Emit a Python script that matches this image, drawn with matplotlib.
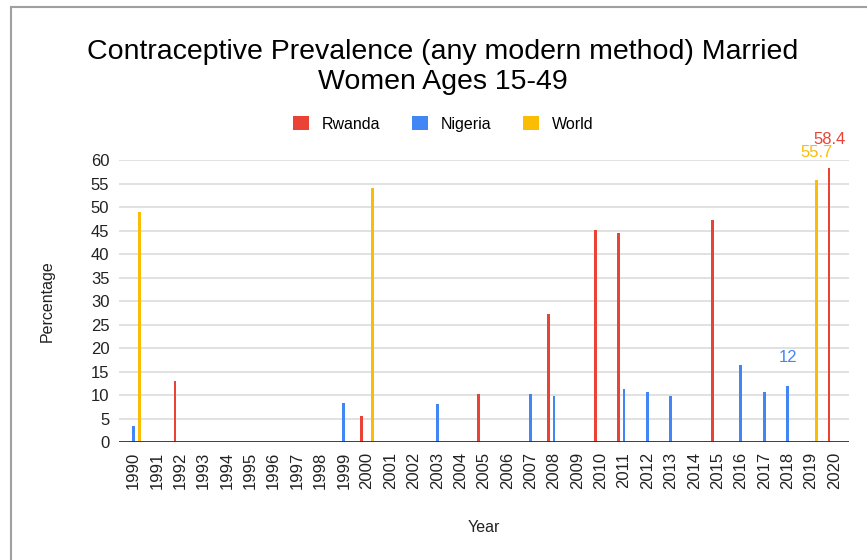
import numpy as np
import matplotlib
matplotlib.use("Agg")
import matplotlib.pyplot as plt
from matplotlib.lines import Line2D
from matplotlib.patches import Patch

plt.rcParams['font.family'] = ['Liberation Sans', 'DejaVu Sans']

years = list(range(1990, 2021))
nan = np.nan

# values, one entry per year 1990..2020
rwanda = [nan, nan, 13.0, nan, nan, nan, nan, nan, nan, nan,
          5.6, nan, nan, nan, nan, 10.2, nan, nan, 27.2, nan,
          45.1, 44.4, nan, nan, nan, 47.3, nan, nan, nan, nan, 58.4]
nigeria = [3.4, nan, nan, nan, nan, nan, nan, nan, nan, 8.4,
           nan, nan, nan, 8.0, nan, nan, nan, 10.2, 9.7, nan,
           nan, 11.3, 10.6, 9.8, nan, nan, 16.4, 10.6, 12.0, nan, nan]
world = [48.9, nan, nan, nan, nan, nan, nan, nan, nan, nan,
         54.0, nan, nan, nan, nan, nan, nan, nan, nan, nan,
         nan, nan, nan, nan, nan, nan, nan, nan, nan, 55.7, nan]

series = [("Rwanda", rwanda, "#ea4335"),
          ("Nigeria", nigeria, "#4285f4"),
          ("World", world, "#fbbc04")]

# only these points carry a value label in the original
labelled = {"Rwanda": [2020], "Nigeria": [2018], "World": [2019]}

fig = plt.figure(figsize=(8.67, 5.6), dpi=100)
ax = fig.add_axes([0.1373, 0.2107, 0.979 - 0.1373, 0.714 - 0.2107])

x = np.arange(len(years))
offsets = [-0.225, 0.0, 0.24]
for (name, vals, col), off in zip(series, offsets):
    ax.bar(x + off, vals, width=0.12, color=col, zorder=3)
    for yr in labelled[name]:
        i = years.index(yr)
        lbl = ("%g" % vals[i])
        ax.annotate(lbl, (x[i] + off, vals[i]), xytext=(0, 20),
                    textcoords="offset points", ha="center", va="center",
                    color=col, fontsize=12, annotation_clip=False, zorder=4)

ax.set_xlim(-0.62, len(years) - 0.38)
ax.set_ylim(0, 60)
ax.set_yticks(range(0, 61, 5))
ax.set_xticks(x)
ax.set_xticklabels([str(y) for y in years], rotation=90, fontsize=12, color="#222222")
ax.tick_params(axis="y", labelsize=12, colors="#222222")
ax.tick_params(length=0, pad=7)
ax.grid(axis="y", color="#d9d9d9", linewidth=1.1, zorder=0)
ax.axhline(0, color="#333333", linewidth=1.3, zorder=5)
for s in ax.spines.values():
    s.set_visible(False)

ax.set_ylabel("Percentage", fontsize=11.5, color="#222222", labelpad=26)
ax.set_xlabel("Year", fontsize=11.5, color="#222222", labelpad=22)

fig.text(0.511, 0.881, "Contraceptive Prevalence (any modern method) Married\nWomen Ages 15-49",
         ha="center", va="center", fontsize=20.5, linespacing=1.2)

handles = [Patch(facecolor=c, edgecolor="none") for _, _, c in series]
fig.legend(handles, [n for n, _, _ in series], loc="center", bbox_to_anchor=(0.511, 0.779),
           ncol=3, frameon=False, fontsize=11.5, handlelength=1.0, handleheight=1.0,
           columnspacing=2.0, handletextpad=0.8)

# outer frame of the screenshot
fig.add_artist(Line2D([11 / 867, 1], [1 - 7 / 560, 1 - 7 / 560], color="#a0a0a0", linewidth=1.5))
fig.add_artist(Line2D([11 / 867, 11 / 867], [0, 1 - 7 / 560], color="#a0a0a0", linewidth=1.5))

fig.savefig("out.png", dpi=100)
